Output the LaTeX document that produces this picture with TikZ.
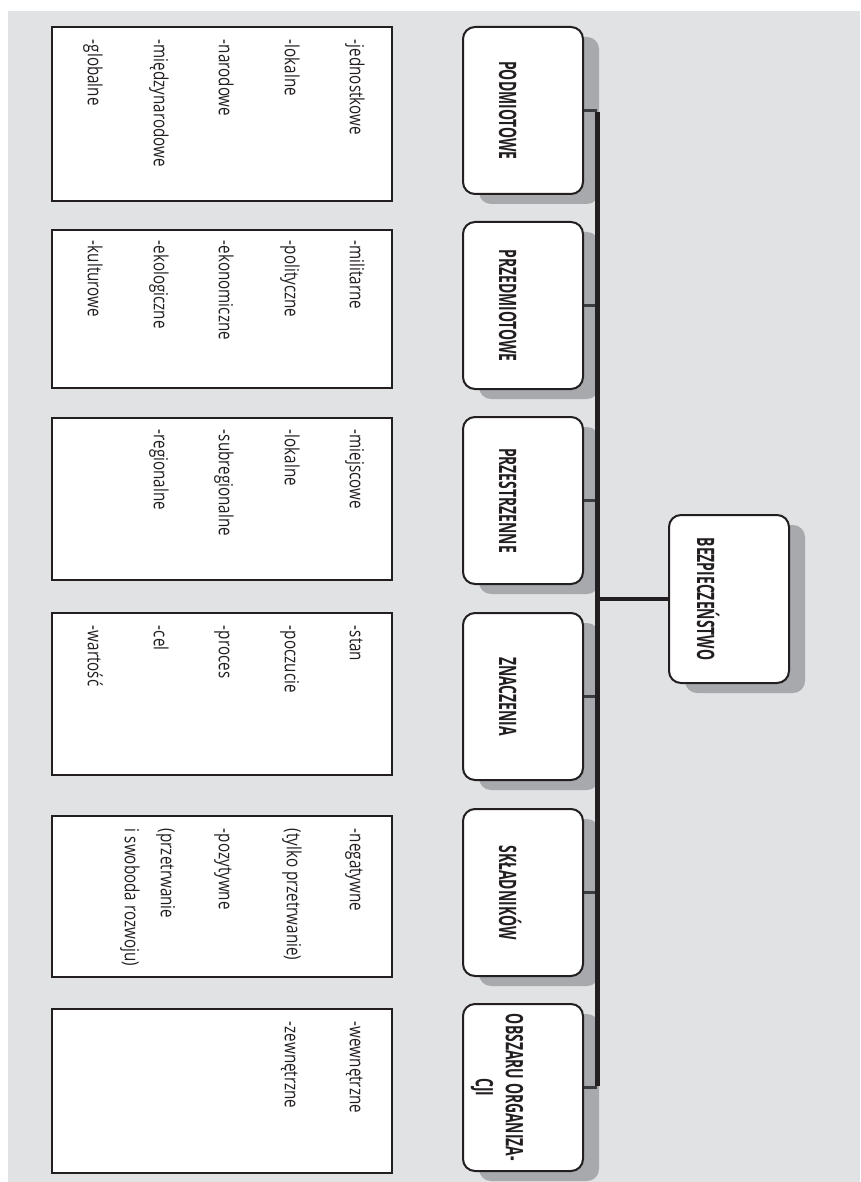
\documentclass[tikz,border=0pt]{standalone}
\usepackage{fontspec}
\setmainfont{Open Sans}
\newfontfamily\listfont[FakeStretch=0.78]{Open Sans}
\newfontfamily\catfont[FakeStretch=0.58]{Open Sans}
\usetikzlibrary{shadows}
\definecolor{bggray}{RGB}{225,226,228}
\definecolor{shadowgray}{RGB}{167,169,172}
\definecolor{ink}{RGB}{35,31,32}
\definecolor{linkgray}{RGB}{60,60,62}
\begin{document}
\begin{tikzpicture}[x=1pt,y=-1pt,
  catbox/.style={draw=ink, line width=2pt, fill=white, rounded corners=12pt,
    minimum width=120pt, minimum height=167pt, inner sep=0pt,
    general shadow={fill=shadowgray, shadow xshift=16pt, shadow yshift=-10pt}},
  cattext/.style={font=\catfont\bfseries\fontsize{24}{30}\selectfont, text=ink,
    rotate=-90, anchor=base, inner sep=0pt, align=center},
  listbox/.style={draw=ink, line width=2.5pt, fill=white, minimum width=340pt, inner sep=0pt},
  listtext/.style={font=\listfont\fontsize{19.5}{36}\selectfont, text=ink,
    rotate=-90, anchor=base west, inner sep=0pt},
  spine/.style={draw=ink, line width=5pt},
  link/.style={draw=linkgray, line width=3pt},
  mainlink/.style={draw=ink, line width=4pt}
]
\useasboundingbox (0,0) rectangle (860,1182);
\fill[bggray] (8,11) rectangle (860,1182);

% list boxes
\node[listbox, minimum height=174pt] (l1) at (222,114) {};
\node[listbox, minimum height=158pt] (l2) at (222,309) {};
\node[listbox, minimum height=162pt] (l3) at (222,499) {};
\node[listbox, minimum height=162pt] (l4) at (222,694) {};
\node[listbox, minimum height=161pt] (l5) at (222,896.5) {};
\node[listbox, minimum height=164pt] (l6) at (222,1091) {};

% list texts
\node[listtext] (t11) at ([shift={(299,14)}]l1.north west) {-jednostkowe};
\node[listtext] (t12) at ([shift={(234,14)}]l1.north west) {-lokalne};
\node[listtext] (t13) at ([shift={(168,14)}]l1.north west) {-narodowe};
\node[listtext] (t14) at ([shift={(103,14)}]l1.north west) {-międzynarodowe};
\node[listtext] (t15) at ([shift={(37,14)}]l1.north west) {-globalne};

\node[listtext] (t21) at ([shift={(299,12)}]l2.north west) {-militarne};
\node[listtext] (t22) at ([shift={(234,12)}]l2.north west) {-polityczne};
\node[listtext] (t23) at ([shift={(168,12)}]l2.north west) {-ekonomiczne};
\node[listtext] (t24) at ([shift={(103,12)}]l2.north west) {-ekologiczne};
\node[listtext] (t25) at ([shift={(37,12)}]l2.north west) {-kulturowe};

\node[listtext] (t31) at ([shift={(299,13)}]l3.north west) {-miejscowe};
\node[listtext] (t32) at ([shift={(234,13)}]l3.north west) {-lokalne};
\node[listtext] (t33) at ([shift={(168,13)}]l3.north west) {-subregionalne};
\node[listtext] (t34) at ([shift={(103,13)}]l3.north west) {-regionalne};

\node[listtext] (t41) at ([shift={(299,14)}]l4.north west) {-stan};
\node[listtext] (t42) at ([shift={(234,14)}]l4.north west) {-poczucie};
\node[listtext] (t43) at ([shift={(168,14)}]l4.north west) {-proces};
\node[listtext] (t44) at ([shift={(103,14)}]l4.north west) {-cel};
\node[listtext] (t45) at ([shift={(37,14)}]l4.north west) {-wartość};

\node[listtext] (t51) at ([shift={(299,14)}]l5.north west) {-negatywne};
\node[listtext] (t52) at ([shift={(236,14)}]l5.north west) {(tylko przetrwanie)};
\node[listtext] (t53) at ([shift={(168,14)}]l5.north west) {-pozytywne};
\node[listtext] (t54) at ([shift={(110,14)}]l5.north west) {(przetrwanie};
\node[listtext] (t55) at ([shift={(74,14)}]l5.north west) {i swoboda rozwoju)};

\node[listtext] (t61) at ([shift={(299,14)}]l6.north west) {-wewnętrzne};
\node[listtext] (t62) at ([shift={(234,14)}]l6.north west) {-zewnętrzne};

% category boxes
\node[catbox] (c1) at (523,110.5) {};
\node[catbox] (c2) at (523,305.5) {};
\node[catbox] (c3) at (523,500.5) {};
\node[catbox] (c4) at (523,696.5) {};
\node[catbox] (c5) at (523,892.5) {};
\node[catbox] (c6) at (523,1087.5) {};
\node[catbox, minimum height=168pt] (bez) at (729,599) {};

\coordinate (hub) at (597,599);

% connectors
\foreach \c in {c1,c2,c3,c4,c5,c6}{
  \draw[link] (\c.east) -- (\c.east -| hub);
}
\draw[spine] ([yshift=-2pt]c1.east -| hub) -- ([yshift=2pt]c6.east -| hub);
\draw[mainlink] (hub) -- (bez.west);

% category labels
\node[cattext] (c1t) at ([xshift=-24pt]c1.center) {PODMIOTOWE};
\node[cattext] (c2t) at ([xshift=-24pt]c2.center) {PRZEDMIOTOWE};
\node[cattext] (c3t) at ([xshift=-24pt]c3.center) {PRZESTRZENNE};
\node[cattext] (c4t) at ([xshift=-24pt]c4.center) {ZNACZENIA};
\node[cattext] (c5t) at ([xshift=-24pt]c5.center) {SKŁADNIKÓW};
\node[cattext, anchor=center] (c6t) at ([xshift=-26pt]c6.center) {OBSZARU ORGANIZA-\\CJI};
\node[cattext] (bezt) at ([xshift=-32pt]bez.center) {BEZPIECZEŃSTWO};
\end{tikzpicture}
\end{document}
